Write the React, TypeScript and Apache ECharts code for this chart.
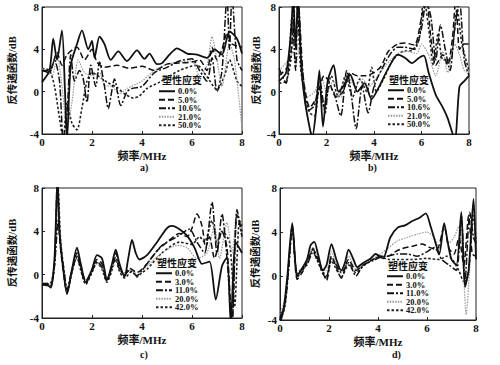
import React, { useEffect, useRef } from "react";
import * as echarts from "echarts";

type P = [number, number][];

const namesAB = ["0.0%", "5.0%", "10.6%", "21.0%", "50.0%"];
const namesCD = ["0.0%", "3.0%", "11.0%", "20.0%", "42.0%"];
const xTicks = [0, 2, 4, 6, 8];
const yTicks = [-4, 0, 4, 8];

// Panel a
const a0: P = [[0,0.9],[0.3,2.0],[0.45,5.0],[0.6,3.0],[0.8,5.8],[0.92,0],[1.0,-4.5],[1.15,2.5],[1.4,4.5],[1.6,5.8],[1.85,4.0],[2.0,4.8],[2.1,3.2],[2.3,5.2],[2.5,4.5],[2.75,3.0],[3.05,3.8],[3.4,2.9],[3.8,3.9],[4.1,3.1],[4.3,3.6],[4.6,2.6],[4.8,2.7],[5.1,3.5],[5.4,4.1],[5.8,3.6],[6.2,3.5],[6.6,3.2],[6.9,4.0],[7.2,3.5],[7.5,5.7],[7.8,5.0],[8.0,3.6]];
const a1: P = [[0,2.0],[0.3,2.0],[0.6,3.7],[0.8,2.5],[1.0,3.5],[1.4,4.2],[1.7,3.0],[2.0,4.0],[2.2,2.8],[2.5,2.3],[3.0,2.5],[3.5,2.2],[4.0,2.4],[4.5,2.0],[5.0,2.6],[5.5,2.7],[6.0,2.8],[6.3,3.0],[6.6,2.0],[6.8,4.2],[7.0,3.0],[7.2,4.0],[7.4,5.5],[7.6,4.5],[8.0,4.2]];
const a2: P = [[0,2.0],[0.3,1.8],[0.5,3.0],[0.7,1.0],[0.85,-4.5],[1.0,-2.0],[1.15,3.5],[1.3,1.0],[1.5,2.0],[1.65,1.2],[1.8,-1.0],[1.95,2.5],[2.15,0.5],[2.3,2.8],[2.5,0.5],[2.65,-1.6],[2.9,1.2],[3.15,-1.3],[3.4,0.0],[3.6,0.3],[4.0,0.5],[4.5,1.8],[5.0,2.3],[5.5,2.9],[6.0,3.1],[6.3,2.0],[6.6,1.0],[6.8,3.2],[7.0,0.0],[7.2,2.0],[7.4,9.0],[7.5,4.0],[7.6,9.0],[7.8,3.0],[8.0,2.0]];
const a3: P = [[0,2.2],[0.4,1.5],[0.6,3.5],[0.8,0.5],[1.0,-3.5],[1.2,-1.0],[1.45,3.0],[1.7,1.8],[2.0,1.5],[2.3,1.8],[2.5,0.6],[2.8,0.5],[3.1,-0.2],[3.4,0.3],[4.0,1.0],[4.5,2.0],[5.0,2.6],[5.5,2.8],[6.0,2.9],[6.3,1.5],[6.6,2.5],[6.8,5.2],[7.0,3.0],[7.2,0.5],[7.5,4.5],[7.7,3.0],[8.0,-3.5]];
const a4: P = [[0,2.2],[0.3,2.0],[0.5,0.5],[0.7,-2.5],[0.85,-4.5],[1.0,-1.0],[1.2,-3.0],[1.4,-3.6],[1.6,-1.5],[1.8,1.0],[2.0,1.8],[2.3,1.4],[2.6,0.9],[3.0,0.4],[3.3,-0.2],[3.65,-0.6],[3.9,-0.4],[4.2,0.3],[4.7,0.9],[5.5,2.0],[6.2,2.5],[6.6,1.4],[7.0,0.2],[7.3,1.5],[7.5,3.0],[7.8,1.0],[8.0,0.5]];

// Panel b
const b0: P = [[0,1.0],[0.3,1.8],[0.5,5.5],[0.6,9],[0.7,4],[0.8,9],[0.95,2.0],[1.1,-1.0],[1.3,-3.5],[1.4,-4.3],[1.55,-2.0],[1.7,2.0],[1.85,-3.3],[2.05,1.0],[2.3,2.5],[2.5,0.0],[2.7,0.5],[3.0,1.6],[3.3,0.0],[3.6,0.8],[3.9,-0.7],[4.2,0.4],[4.6,2.2],[5.0,3.5],[5.3,3.2],[5.6,2.7],[5.9,3.2],[6.1,3.4],[6.3,1.8],[6.6,-0.3],[6.9,-1.5],[7.1,-2.5],[7.4,-4.5],[7.6,0.5],[7.8,1.0],[8.0,1.5]];
const b1: P = [[0,1.5],[0.4,2.5],[0.6,6],[0.7,9],[0.9,4],[1.0,1.5],[1.3,-1.5],[1.6,-0.5],[1.9,1.5],[2.1,1.0],[2.4,-0.5],[2.7,0.0],[3.0,1.8],[3.3,1.5],[3.6,1.5],[4.0,1.8],[4.3,2.4],[4.6,3.8],[5.0,4.5],[5.3,4.6],[5.7,4.4],[6.0,7],[6.2,9],[6.4,5],[6.6,2.5],[6.9,3.5],[7.1,2.5],[7.3,5],[7.45,9],[7.6,4],[7.8,4.5],[8.0,4.5]];
const b2: P = [[0,2.2],[0.3,0.8],[0.55,7],[0.7,2],[0.8,9],[1.0,2.0],[1.2,-1.8],[1.5,-1.3],[1.7,1.2],[1.95,-2.0],[2.1,0.5],[2.3,0.0],[2.6,-2.3],[2.85,2.0],[3.0,0.5],[3.25,-3.5],[3.5,0.5],[3.75,-2.0],[4.0,0.5],[4.3,2.0],[4.7,3.6],[5.0,4.2],[5.3,4.2],[5.7,4.0],[6.0,6],[6.2,8.5],[6.4,7],[6.6,3],[6.8,6.3],[7.0,4],[7.2,2],[7.4,6],[7.6,8.5],[7.8,3],[8.0,1.5]];
const b3: P = [[0,2.0],[0.4,3.0],[0.6,3.8],[0.7,2.5],[0.85,4],[1.0,2.0],[1.2,-0.5],[1.5,0.0],[1.8,1.3],[2.0,0.0],[2.3,1.0],[2.6,-0.5],[2.9,1.5],[3.2,0.5],[3.5,1.2],[3.8,0.5],[4.0,1.0],[4.5,2.5],[5.0,3.6],[5.4,3.8],[5.8,3.6],[6.0,4.5],[6.3,3.5],[6.6,1.5],[6.9,3.8],[7.1,1.8],[7.4,4.5],[7.6,3.5],[7.8,2.0],[8.0,1.8]];
const b4: P = [[0,0.8],[0.3,1.0],[0.5,3.0],[0.7,9],[0.8,8],[0.9,2.5],[1.1,-0.5],[1.3,-2.0],[1.5,-2.3],[1.7,0.5],[1.9,-1.5],[2.2,1.5],[2.5,-0.5],[2.8,1.5],[3.1,-0.5],[3.4,1.2],[3.7,0.0],[3.9,2.3],[4.1,0.0],[4.4,1.2],[4.8,3.0],[5.2,3.8],[5.6,3.9],[5.9,5],[6.1,9],[6.3,6],[6.5,2.5],[6.7,5.5],[6.9,3.0],[7.2,3.0],[7.5,7.8],[7.7,4.5],[8.0,2.0]];

// Panel c
const c0: P = [[0,-0.8],[0.2,-0.9],[0.35,-1.2],[0.5,1.5],[0.62,9],[0.7,4],[0.85,0.5],[1.0,-1.8],[1.2,0.5],[1.4,2.5],[1.55,1.0],[1.75,-0.7],[2.0,0.5],[2.2,1.8],[2.4,1.5],[2.6,-0.5],[2.8,1.0],[2.95,2.3],[3.1,1.0],[3.3,-0.2],[3.45,1.5],[3.6,3.2],[3.75,2.0],[3.9,1.4],[4.2,1.8],[4.6,3.0],[5.0,4.3],[5.2,4.5],[5.5,4.2],[5.8,3.6],[6.1,2.5],[6.4,1.0],[6.7,1.2],[6.95,-2.3],[7.2,0.8],[7.4,1.6],[7.55,-4.5],[7.75,3.0],[8.0,2.0]];
const c1: P = [[0,-0.9],[0.2,-1.0],[0.35,-1.1],[0.5,1.0],[0.62,9],[0.7,3.5],[0.85,0.3],[1.0,-1.6],[1.2,0.3],[1.4,2.0],[1.55,0.8],[1.75,-0.6],[2.0,0.4],[2.2,1.4],[2.4,1.0],[2.6,-0.4],[2.8,0.8],[2.95,2.0],[3.1,0.8],[3.3,-0.1],[3.5,0.6],[3.8,0.2],[4.0,0.5],[4.2,1.0],[4.6,2.2],[5.0,3.0],[5.5,3.8],[5.8,3.5],[6.0,4.3],[6.2,5.6],[6.4,4.5],[6.55,2.5],[6.7,3.5],[6.9,1.5],[7.2,4.0],[7.4,2.5],[7.6,-4.5],[7.8,5.5],[8.0,4.0]];
const c2: P = [[0,-1.0],[0.2,-0.8],[0.35,-1.0],[0.5,0.8],[0.65,5.0],[0.75,2.5],[0.9,0.0],[1.0,-1.4],[1.2,0.5],[1.4,1.6],[1.55,0.5],[1.75,-0.8],[2.0,0.3],[2.2,1.2],[2.4,0.7],[2.6,-0.6],[2.8,0.7],[2.95,1.6],[3.1,0.5],[3.3,0.0],[3.5,0.4],[3.8,-0.1],[4.0,0.4],[4.2,1.0],[4.8,2.7],[5.4,3.5],[5.9,4.2],[6.2,3.0],[6.5,2.0],[6.8,6.7],[7.0,2.0],[7.2,5.6],[7.4,1.5],[7.6,-4.5],[7.8,6.0],[8.0,3.5]];
const c3: P = [[0,-0.7],[0.3,-0.9],[0.5,1.2],[0.64,7],[0.75,3],[0.9,0.2],[1.0,-1.5],[1.2,0.6],[1.4,1.8],[1.6,0.3],[1.75,-0.5],[2.0,0.5],[2.2,1.0],[2.4,0.6],[2.6,-0.3],[2.8,0.5],[2.95,1.5],[3.1,0.6],[3.3,0.2],[3.6,0.5],[3.8,0.0],[4.0,0.3],[4.2,0.8],[4.8,2.0],[5.4,2.7],[5.8,2.5],[6.2,1.5],[6.6,2.0],[6.9,4.5],[7.1,1.5],[7.4,4.8],[7.6,2.0],[7.8,6.0],[8.0,3.0]];
const c4: P = [[0,-0.8],[0.3,-0.9],[0.5,1.0],[0.63,8.5],[0.75,3],[0.9,0.0],[1.0,-1.6],[1.2,0.2],[1.4,1.7],[1.55,0.4],[1.75,-0.9],[2.0,0.2],[2.2,1.1],[2.4,0.5],[2.6,-0.7],[2.8,0.4],[2.95,1.4],[3.1,0.3],[3.3,-0.3],[3.6,0.3],[3.8,-0.2],[4.0,0.2],[4.2,0.5],[4.8,2.0],[5.5,3.0],[6.0,2.8],[6.3,3.5],[6.5,3.0],[6.8,5.0],[7.0,3.0],[7.2,4.0],[7.5,3.0],[7.7,-3.0],[7.9,5.0],[8.0,4.5]];

// Panel d
const d0: P = [[0,-4.3],[0.15,-3.0],[0.3,0.0],[0.5,4.8],[0.7,0.0],[0.85,0.5],[1.1,1.5],[1.25,2.8],[1.4,3.1],[1.55,2.0],[1.75,0.5],[1.9,1.0],[2.1,2.9],[2.3,1.5],[2.5,0.5],[2.65,1.2],[2.8,2.4],[3.0,1.5],[3.15,0.8],[3.4,1.2],[3.7,1.6],[3.9,2.0],[4.2,1.6],[4.5,3.5],[4.8,4.4],[5.1,4.6],[5.4,5.0],[5.7,5.3],[5.95,5.7],[6.15,4.5],[6.35,3.0],[6.5,2.0],[6.7,4.8],[6.85,3.0],[7.0,1.5],[7.2,1.0],[7.4,5.8],[7.55,-1.0],[7.7,0.5],[7.9,7.0],[8.0,1.5]];
const d1: P = [[0,-4.0],[0.2,-2.5],[0.35,1.0],[0.5,4.5],[0.7,-0.3],[0.9,0.3],[1.1,1.2],[1.35,2.4],[1.5,1.8],[1.75,0.3],[1.9,-0.4],[2.1,1.8],[2.3,0.8],[2.5,-0.2],[2.8,1.5],[3.1,0.5],[3.4,1.0],[3.8,1.5],[4.1,1.8],[4.4,1.8],[4.7,2.2],[5.0,2.5],[5.4,2.7],[5.8,2.9],[6.1,2.6],[6.4,2.4],[6.7,4.5],[6.9,2.5],[7.1,2.0],[7.3,3.5],[7.5,1.0],[7.7,5.5],[7.85,2.0],[8.0,1.8]];
const d2: P = [[0,-3.8],[0.2,-2.5],[0.35,0.5],[0.5,4.5],[0.7,0.2],[0.9,0.6],[1.1,1.0],[1.35,2.2],[1.5,1.5],[1.75,0.4],[1.9,0.0],[2.1,1.6],[2.3,1.0],[2.5,0.3],[2.8,1.2],[3.1,0.0],[3.4,1.0],[3.8,1.4],[4.1,1.7],[4.4,1.8],[4.8,2.0],[5.2,2.0],[5.6,1.8],[6.0,2.2],[6.3,2.6],[6.6,1.5],[6.9,1.0],[7.2,0.5],[7.4,5.5],[7.55,-0.5],[7.75,5.8],[7.9,3.5],[8.0,3.0]];
const d3: P = [[0,-3.5],[0.2,-2.0],[0.35,1.0],[0.5,4.6],[0.7,0.3],[0.9,0.8],[1.1,1.4],[1.35,2.6],[1.5,2.0],[1.75,0.5],[1.9,0.5],[2.1,2.2],[2.3,1.2],[2.5,0.4],[2.8,1.8],[3.1,0.6],[3.4,1.2],[3.8,1.6],[4.1,2.0],[4.4,2.5],[4.8,3.2],[5.2,3.5],[5.6,3.8],[6.0,4.0],[6.3,3.5],[6.5,2.5],[6.7,4.5],[6.9,3.0],[7.1,3.5],[7.3,4.5],[7.45,2.0],[7.6,-3.5],[7.75,1.0],[7.9,6.5],[8.0,2.0]];
const d4: P = [[0,-4.0],[0.2,-2.8],[0.35,0.8],[0.5,4.4],[0.7,-0.1],[0.9,0.4],[1.1,1.3],[1.35,2.5],[1.5,1.6],[1.75,0.2],[1.9,-0.2],[2.1,1.4],[2.3,0.6],[2.5,-0.1],[2.8,1.0],[3.1,0.3],[3.4,0.9],[3.8,1.5],[4.1,1.8],[4.4,1.5],[4.8,1.5],[5.4,1.5],[6.0,1.6],[6.5,1.5],[6.8,1.8],[7.0,1.6],[7.3,0.5],[7.5,-0.5],[7.7,0.5],[7.9,5.5],[8.0,3.0]];

const panelData: P[][] = [
  [a0, a1, a2, a3, a4],
  [b0, b1, b2, b3, b4],
  [c0, c1, c2, c3, c4],
  [d0, d1, d2, d3, d4],
];
const panelNames = [namesAB, namesAB, namesCD, namesCD];
const panelLetters = ["a)", "b)", "c)", "d)"];

const FONT = "'Liberation Serif', 'Noto Sans CJK SC', serif";

const grids = [
  { left: 42, top: 7, width: 200, height: 127 },
  { left: 279, top: 7, width: 190, height: 127 },
  { left: 42, top: 188, width: 200, height: 130 },
  { left: 280, top: 188, width: 196, height: 132 },
];
const yNameGaps = [24, 17, 24, 19];
const legendPos = [
  { left: 158, top: 87 },
  { left: 387, top: 86 },
  { left: 155, top: 269 },
  { left: 386, top: 272 },
];
const legendTitlePos = [
  { x: 162, y: 81 },
  { x: 389, y: 81 },
  { x: 157, y: 264 },
  { x: 388, y: 267 },
];
const letterPos = [
  { x: 145, y: 168 },
  { x: 373, y: 168 },
  { x: 145, y: 355 },
  { x: 397, y: 355 },
];

const lineStyles: any[] = [
  { type: "solid", width: 1.8, color: "#111" },
  { type: [6, 3], width: 1.5, color: "#111" },
  { type: [7, 2, 2, 2], width: 1.5, color: "#111" },
  { type: [1.5, 1.2], width: 1.2, color: "#999" },
  { type: [2.5, 2], width: 1.6, color: "#222" },
];

export default function App() {
  const ref = useRef<HTMLDivElement>(null);
  useEffect(() => {
    if (!ref.current) return;
    const chart = echarts.init(ref.current, undefined, { renderer: "svg" });
    const labelStyle = { fontFamily: FONT, fontWeight: "bold" as const, fontSize: 11, color: "#111" };
    const option: any = {
      animation: false,
      backgroundColor: "#fff",
      grid: grids.map((g) => ({ ...g, show: true, borderColor: "#222", borderWidth: 1, backgroundColor: "transparent" })),
      xAxis: grids.map((_, i) => ({
        type: "value",
        gridIndex: i,
        min: xTicks[0],
        max: xTicks[xTicks.length - 1],
        interval: 2,
        name: "频率/MHz",
        nameLocation: "middle",
        nameGap: 16,
        nameTextStyle: { ...labelStyle, fontSize: 11 },
        axisLine: { show: true, onZero: false, lineStyle: { color: "#222", width: 1 } },
        axisTick: { show: true, inside: true, length: 3, lineStyle: { color: "#222" } },
        axisLabel: { ...labelStyle, margin: 2 },
        splitLine: { show: false },
      })),
      yAxis: grids.map((_, i) => ({
        type: "value",
        gridIndex: i,
        min: yTicks[0],
        max: yTicks[yTicks.length - 1],
        interval: 4,
        name: "反传递函数/dB",
        nameLocation: "middle",
        nameRotate: 90,
        nameGap: yNameGaps[i],
        nameTextStyle: { ...labelStyle, fontSize: 10.5 },
        axisLine: { show: true, onZero: false, lineStyle: { color: "#222", width: 1 } },
        axisTick: { show: true, inside: true, length: 3, lineStyle: { color: "#222" } },
        axisLabel: { ...labelStyle, margin: 3 },
        splitLine: { show: false },
      })),
      legend: grids.map((_, i) => ({
        orient: "vertical",
        left: legendPos[i].left,
        top: legendPos[i].top,
        data: panelNames[i],
        itemWidth: 16,
        itemHeight: 6,
        itemGap: 0,
        padding: 0,
        selectedMode: false,
        itemStyle: { opacity: 0, borderWidth: 0 },
        textStyle: { ...labelStyle, fontSize: 8.5, lineHeight: 8.5, padding: [0, 0, 0, -2] },
      })),
      graphic: [
        ...legendTitlePos.map((p) => ({
          type: "text",
          left: p.x,
          top: p.y - 6,
          style: { text: "塑性应变", font: `bold 10px ${FONT}`, fill: "#111" },
        })),
        ...letterPos.map((p, i) => ({
          type: "text",
          left: p.x - 5,
          top: p.y - 6,
          style: { text: panelLetters[i], font: `bold 10px ${FONT}`, fill: "#111" },
        })),
      ],
      series: panelData.flatMap((list, gi) =>
        list.map((d, si) => ({
          type: "line",
          name: panelNames[gi][si],
          xAxisIndex: gi,
          yAxisIndex: gi,
          data: d,
          symbol: "none",
          showSymbol: false,
          smooth: 0.25,
          clip: true,
          lineStyle: lineStyles[si],
          itemStyle: { color: lineStyles[si].color },
          z: 5 - si,
        }))
      ),
    };
    chart.setOption(option);
    return () => chart.dispose();
  }, []);
  return <div ref={ref} style={{ position: "absolute", left: 0, top: 0, width: 500, height: 365 }} />;
}
